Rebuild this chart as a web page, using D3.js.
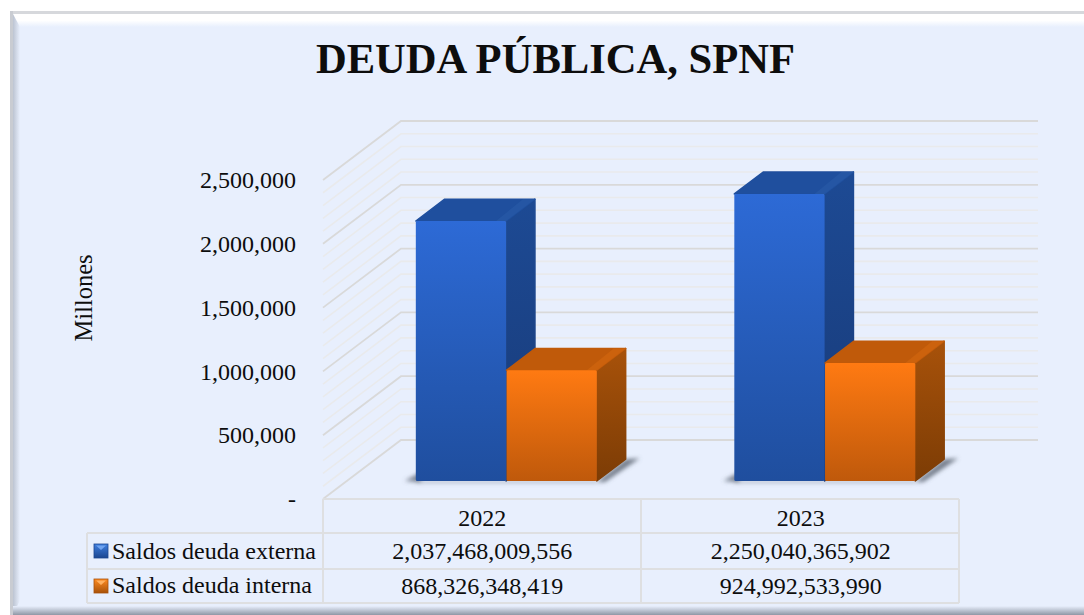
<!DOCTYPE html>
<html>
<head>
<meta charset="utf-8">
<script src="https://cdn.jsdelivr.net/npm/d3@7"></script>
<style>
  html, body { margin: 0; padding: 0; background: #fff; }
  svg { display: block; }
  text { font-family: "Liberation Serif", serif; fill: #0d0d0d; }
</style>
</head>
<body>
<script>
const years = ["2022", "2023"];
const seriesNames = ["Saldos deuda externa", "Saldos deuda interna"];
const deudaExterna = [2037468009556, 2250040365902];
const deudaInterna = [868326348419, 924992533990];
const yTicks = [0, 500000, 1000000, 1500000, 2000000, 2500000];
const minorTicks = d3.range(0, 2500001, 100000);

const w = 1084, h = 615;
const fmt = d3.format(",.0f");

const svg = d3.select("body").append("svg").attr("width", w).attr("height", h);
const defs = svg.append("defs");

// ----- GRADIENTS -----
function gradient(id, stops, x2, y2) {
  const g = defs.append("linearGradient").attr("id", id)
    .attr("x1", 0).attr("y1", 0).attr("x2", x2).attr("y2", y2);
  stops.forEach((c, i) => g.append("stop").attr("offset", i / (stops.length - 1)).attr("stop-color", c));
}
gradient("blueFront", ["#2D6AD6", "#1F4E9E"], 0, 1);
gradient("blueSide", ["#1D4A94", "#183A78"], 0, 1);
gradient("orangeFront", ["#FF7A12", "#BF590B"], 0, 1);
gradient("orangeSide", ["#A8520A", "#7C3C05"], 0, 1);
gradient("edgeLeft", ["#BCC4D2", "#E8EFFD"], 1, 0);
gradient("edgeTop", ["#FFFFFF", "#FFFFFF", "#E8EFFD"], 0, 1);
gradient("edgeBottom", ["#E8EFFD", "#8F97A5"], 0, 1);
gradient("keyBlue", ["#3F7FE0", "#1C4690"], 0, 1);
gradient("keyOrange", ["#FF8A20", "#A8520A"], 0, 1);

defs.append("filter").attr("id", "blur")
  .attr("x", "-30%").attr("y", "-60%").attr("width", "160%").attr("height", "220%")
  .append("feGaussianBlur").attr("stdDeviation", 2);

// ----- FRAME -----
svg.append("rect").attr("x", 10).attr("y", 11).attr("width", w - 10).attr("height", h - 11).attr("fill", "#E8EFFD");
svg.append("rect").attr("x", 10).attr("y", 14).attr("width", w - 10).attr("height", 13).attr("fill", "url(#edgeTop)");
svg.append("polygon").attr("points", "13,14 20,27 20,600 13,615").attr("fill", "url(#edgeLeft)");
svg.append("rect").attr("x", 10).attr("y", 606).attr("width", w - 10).attr("height", 9).attr("fill", "url(#edgeBottom)");
svg.append("rect").attr("x", 10).attr("y", 11).attr("width", w - 10).attr("height", 3).attr("fill", "#D6D8DC");
svg.append("rect").attr("x", 10).attr("y", 11).attr("width", 3).attr("height", h - 11).attr("fill", "#C9CCD2");

// ----- SCALES -----
const yScale = d3.scaleLinear().domain([0, 2500000]).range([499, 180]);
const xCat = d3.scaleBand().domain(years).range([323, 960]);
const xBar = d3.scaleBand().domain([0, 1]).range([0, 181]).paddingInner(0.005);

// oblique depth of the 3d box, d = 0 front wall, d = 1 back wall
const depthX = d3.scaleLinear().domain([0, 1]).range([0, 78]);
const depthY = d3.scaleLinear().domain([0, 1]).range([0, -59]);
const barFront = 0.305, barBack = 0.675;
const px = (x, d) => x + depthX(d);
const py = (y, d) => y + depthY(d);

// ----- GRID -----
const grid = svg.append("g").attr("fill", "none");
grid.selectAll("path").data(minorTicks.slice().reverse()).enter().append("path")
  .attr("d", v => {
    const y = yScale(v);
    return "M323," + y + "L" + px(323, 1) + "," + py(y, 1) + "L1038," + py(y, 1);
  })
  .attr("stroke", v => yTicks.includes(v) ? "#D9D9D9" : "#E9EAEC")
  .attr("stroke-width", v => yTicks.includes(v) ? 1.8 : 1.6);

// ----- BARS -----
const allSeries = [
  { values: deudaExterna, front: "blueFront", side: "blueSide", top: "#1F4F9E", corner: "#2A5BA8" },
  { values: deudaInterna, front: "orangeFront", side: "orangeSide", top: "#C05A0A", corner: "#D4670F" }
];

function poly(sel, pts) { return sel.append("path").attr("d", d3.line()(pts) + "Z"); }

years.forEach((year, yi) => {
  const x0 = xCat(year) + xCat.bandwidth() / 2 - xBar.step() + 0.5;
  // floor shadow
  const last = x0 + xBar(1) + xBar.bandwidth();
  const base = yScale(0) + depthY(barFront);
  const shadow = svg.append("g").attr("filter", "url(#blur)").attr("fill", "#5F6875");
  poly(shadow, [[x0 + depthX(barFront) - 11, base], [x0 + depthX(barFront) + 5, base - 9], [x0 + depthX(barFront) + 5, base + 1]]).attr("opacity", 0.8);
  poly(shadow, [[px(last, barFront), base + 1], [px(last, barBack), py(base, barBack - barFront)],
    [px(last, barBack) + 14, py(base, barBack - barFront) - 1], [px(last, barFront) + 8, base + 1]]).attr("opacity", 0.85);
  poly(shadow, [[x0 + depthX(barFront), base], [px(last, barFront), base], [px(last, barFront), base + 2], [x0 + depthX(barFront), base + 2]]).attr("opacity", 0.5);

  allSeries.forEach((s, si) => {
    const v = s.values[yi] / 1e6;
    const xl = px(x0 + xBar(si), barFront);
    const xr = xl + xBar.bandwidth();
    const yb = py(yScale(0), barFront);
    const yt = py(yScale(v), barFront);
    const dx = depthX(barBack - barFront);
    const dy = depthY(barBack - barFront);
    const g = svg.append("g").attr("stroke-linejoin", "round");

    poly(g, [[xr, yb], [xr + dx, yb + dy], [xr + dx, yt + dy], [xr, yt]])
      .attr("fill", "url(#" + s.side + ")").attr("stroke", "url(#" + s.side + ")").attr("stroke-width", 1.5);
    poly(g, [[xl, yt], [xl + dx, yt + dy], [xr + dx, yt + dy], [xr, yt]])
      .attr("fill", s.top).attr("stroke", s.top).attr("stroke-width", 1.5);
    // lighter bevel along the top right edge
    poly(g, [[xr, yt], [xr + dx, yt + dy], [xr + dx - 12, yt + dy], [xr - 10, yt]])
      .attr("fill", s.corner).attr("opacity", 0.6);
    g.append("rect").attr("x", xl).attr("y", yt).attr("width", xr - xl).attr("height", yb - yt)
      .attr("rx", 1.5).attr("fill", "url(#" + s.front + ")");
  });
});

// ----- Y AXIS -----
const yAxis = d3.axisLeft(yScale).tickValues(yTicks).tickSize(0).tickPadding(0)
  .tickFormat(v => v === 0 ? "-" : d3.format(",")(v));
const axisG = svg.append("g").attr("transform", "translate(296,0)").call(yAxis);
axisG.select(".domain").remove();
axisG.selectAll("text").style("font-family", '"Liberation Serif", serif').style("font-size", "24px").attr("fill", "#0d0d0d");

svg.append("text").attr("transform", "translate(92,298) rotate(-90)").attr("text-anchor", "middle")
  .style("font-size", "24.5px").text("Millones");

// ----- TITLE -----
svg.append("text").attr("x", 555.5).attr("y", 73).attr("text-anchor", "middle")
  .style("font-size", "42.6px").style("font-weight", "bold").text("DEUDA PÚBLICA, SPNF");

// ----- DATA TABLE -----
const rows = [499, 533, 569, 603];
const tableLine = "#DEDFE1";
const table = svg.append("g").attr("stroke", tableLine).attr("stroke-width", 2);
table.append("line").attr("x1", 323).attr("x2", 959).attr("y1", rows[0]).attr("y2", rows[0]);
rows.slice(1).forEach(y => table.append("line").attr("x1", 87).attr("x2", 959).attr("y1", y).attr("y2", y));
table.append("line").attr("x1", 87).attr("x2", 87).attr("y1", rows[1]).attr("y2", rows[3]);
[323, 641, 959].forEach(x => table.append("line").attr("x1", x).attr("x2", x).attr("y1", rows[0]).attr("y2", rows[3]));

const cx = y => xCat(y) + xCat.bandwidth() / 2;
years.forEach((year, i) => {
  [[year, 526], [fmt(deudaExterna[i]), 559], [fmt(deudaInterna[i]), 594]].forEach(c => {
    svg.append("text").attr("x", cx(year)).attr("y", c[1]).attr("text-anchor", "middle")
      .style("font-size", "24px").text(c[0]);
  });
});

seriesNames.forEach((name, i) => {
  const y = [544, 579][i];
  svg.append("rect").attr("x", 94).attr("y", y).attr("width", 14).attr("height", 14)
    .attr("fill", i === 0 ? "url(#keyBlue)" : "url(#keyOrange)")
    .attr("stroke", i === 0 ? "#1C4690" : "#A8520A").attr("stroke-width", 0.8);
  svg.append("path").attr("d", "M96," + (y + 1.5) + "H106L101," + (y + 6) + "Z")
    .attr("fill", i === 0 ? "#6FA3F0" : "#FFB060");
  svg.append("text").attr("x", 112).attr("y", [559, 593][i])
    .style("font-size", "24px").text(name);
});
</script>
</body>
</html>
